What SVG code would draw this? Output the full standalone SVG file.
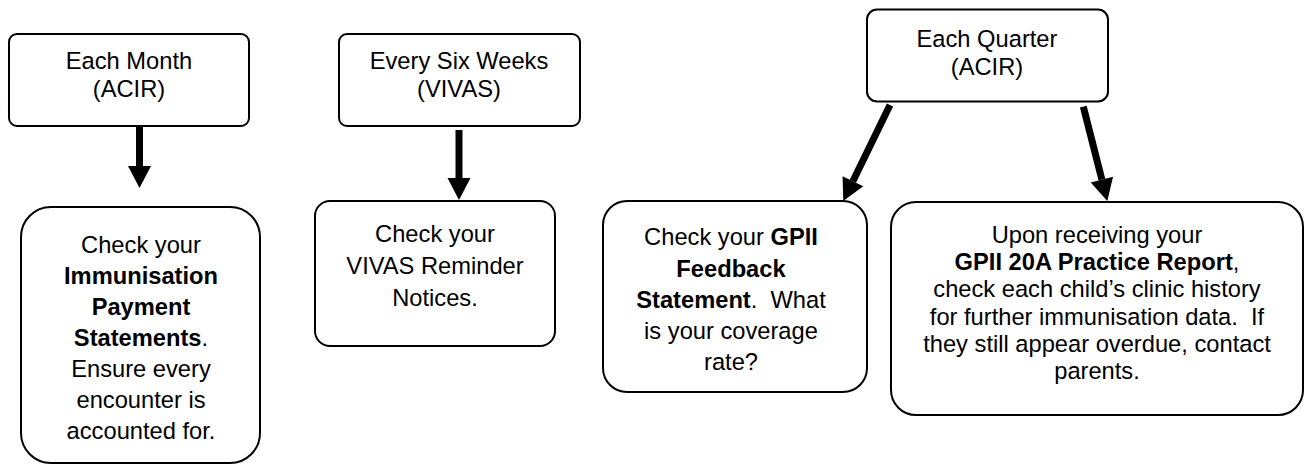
<svg xmlns="http://www.w3.org/2000/svg" width="1309" height="465" viewBox="0 0 1309 465">
<defs>
<style>
.box{fill:#fff;stroke:#000;stroke-width:2}
.t{font-family:"Liberation Sans",Arial,sans-serif;font-size:23.7px;fill:#000;text-anchor:middle}
.b{font-weight:bold}
.conn{stroke:#000;stroke-width:7;fill:none;marker-end:url(#head)}
</style>
<marker id="head" markerUnits="userSpaceOnUse" markerWidth="23" markerHeight="24" refX="0" refY="11.5" orient="auto" viewBox="0 0 23 23" overflow="visible">
<path d="M0,0 L22,11.5 L0,23 Z" fill="#000"/>
</marker>
</defs>
<rect width="1309" height="465" fill="#fff"/>

<g id="connectors">
<line class="conn" x1="139.5" y1="126" x2="139.5" y2="166"/>
<line class="conn" x1="459" y1="130" x2="459" y2="178"/>
<line class="conn" x1="890" y1="105" x2="852.9" y2="181.2"/>
<line class="conn" x1="1083.3" y1="106.7" x2="1101.9" y2="179.7"/>
</g>

<g id="each-month">
<rect class="box" x="9" y="34" width="240" height="92" rx="8"/>
<text class="t" x="129" y="69">Each Month</text>
<text class="t" x="129" y="97">(ACIR)</text>
</g>

<g id="every-six-weeks">
<rect class="box" x="339" y="34" width="241" height="92" rx="8"/>
<text class="t" x="459" y="69">Every Six Weeks</text>
<text class="t" x="459" y="97">(VIVAS)</text>
</g>

<g id="each-quarter">
<rect class="box" x="867" y="9.5" width="241" height="92" rx="10"/>
<text class="t" x="987" y="47">Each Quarter</text>
<text class="t" x="987" y="75">(ACIR)</text>
</g>

<g id="immunisation-payment">
<rect class="box" x="21" y="207" width="239" height="256" rx="30"/>
<text class="t" x="141" y="253">Check your</text>
<text class="t b" x="141" y="284">Immunisation</text>
<text class="t b" x="141" y="315">Payment</text>
<text class="t" x="141" y="346"><tspan class="b">Statements</tspan>.</text>
<text class="t" x="141" y="377">Ensure every</text>
<text class="t" x="141" y="408">encounter is</text>
<text class="t" x="141" y="439">accounted for.</text>
</g>

<g id="vivas-reminder">
<rect class="box" x="315" y="201" width="240" height="145" rx="15"/>
<text class="t" x="435" y="242">Check your</text>
<text class="t" x="435" y="274">VIVAS Reminder</text>
<text class="t" x="435" y="306">Notices.</text>
</g>

<g id="gpii-feedback">
<rect class="box" x="603" y="201" width="264" height="191" rx="24"/>
<text class="t" x="731" y="245">Check your <tspan class="b">GPII</tspan></text>
<text class="t b" x="731" y="277">Feedback</text>
<text class="t" x="731" y="308" xml:space="preserve"><tspan class="b">Statement</tspan>.  What</text>
<text class="t" x="731" y="339">is your coverage</text>
<text class="t" x="731" y="370">rate?</text>
</g>

<g id="gpii-20a">
<rect class="box" x="891" y="202" width="412" height="213" rx="25"/>
<text class="t" x="1097" y="243">Upon receiving your</text>
<text class="t" x="1097" y="270"><tspan class="b">GPII 20A Practice Report</tspan>,</text>
<text class="t" x="1097" y="297">check each child’s clinic history</text>
<text class="t" x="1097" y="324.5" xml:space="preserve">for further immunisation data.  If</text>
<text class="t" x="1097" y="352">they still appear overdue, contact</text>
<text class="t" x="1097" y="379">parents.</text>
</g>
</svg>
